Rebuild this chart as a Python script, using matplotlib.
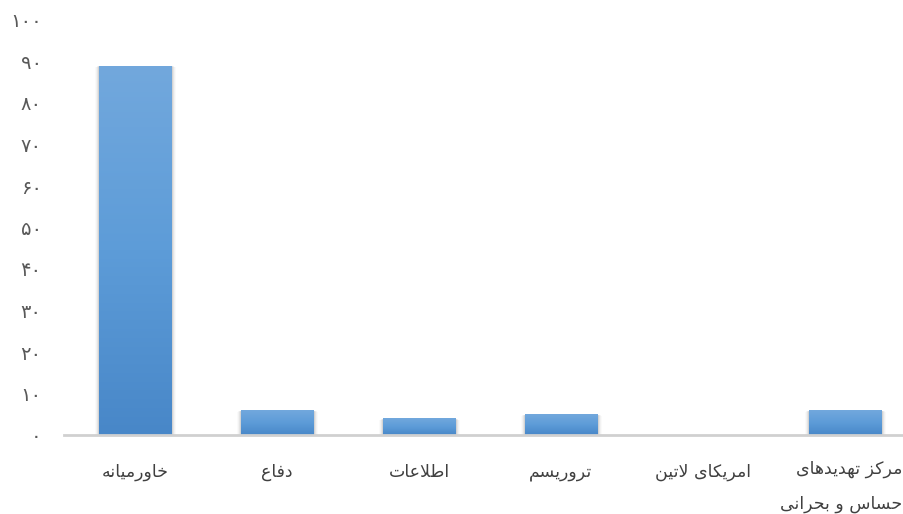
import numpy as np
import matplotlib.pyplot as plt
from matplotlib.colors import LinearSegmentedColormap

# داده‌ها (از راست به چپ در تصویر: چپ‌ترین ستون اول)
categories = ['خاورمیانه', 'دفاع', 'اطلاعات', 'تروریسم', 'امریکای لاتین',
              'مرکز تهدیدهای\nحساس و بحرانی']
values = [89, 6, 4, 5, 0, 6]
yticks = [0, 10, 20, 30, 40, 50, 60, 70, 80, 90, 100]

# شکل‌دهی ساده حروف فارسی (matplotlib متن راست‌به‌چپ را شکل نمی‌دهد)
FORMS = {
    'ا': ('\uFE8D', '\uFE8E', None, None),
    'ب': ('\uFE8F', '\uFE90', '\uFE91', '\uFE92'),
    'ت': ('\uFE95', '\uFE96', '\uFE97', '\uFE98'),
    'ح': ('\uFEA1', '\uFEA2', '\uFEA3', '\uFEA4'),
    'خ': ('\uFEA5', '\uFEA6', '\uFEA7', '\uFEA8'),
    'د': ('\uFEA9', '\uFEAA', None, None),
    'ر': ('\uFEAD', '\uFEAE', None, None),
    'ز': ('\uFEAF', '\uFEB0', None, None),
    'س': ('\uFEB1', '\uFEB2', '\uFEB3', '\uFEB4'),
    'ط': ('\uFEC1', '\uFEC2', '\uFEC3', '\uFEC4'),
    'ع': ('\uFEC9', '\uFECA', '\uFECB', '\uFECC'),
    'ف': ('\uFED1', '\uFED2', '\uFED3', '\uFED4'),
    'ک': ('\uFED9', '\uFEDA', '\uFEDB', '\uFEDC'),
    'ل': ('\uFEDD', '\uFEDE', '\uFEDF', '\uFEE0'),
    'م': ('\uFEE1', '\uFEE2', '\uFEE3', '\uFEE4'),
    'ن': ('\uFEE5', '\uFEE6', '\uFEE7', '\uFEE8'),
    'ه': ('\uFEE9', '\uFEEA', '\uFEEB', '\uFEEC'),
    'و': ('\uFEED', '\uFEEE', None, None),
    'ی': ('\uFEEF', '\uFEF0', '\uFEF3', '\uFEF4'),
}


def dual(c):
    return c in FORMS and FORMS[c][2] is not None


def shape_line(s):
    out = []
    i = 0
    while i < len(s):
        c = s[i]
        if c not in FORMS:
            out.append(c)
            i += 1
            continue
        prev = s[i - 1] if i > 0 else ''
        join_prev = dual(prev)
        # لام الف
        if c == 'ل' and i + 1 < len(s) and s[i + 1] == 'ا':
            out.append('\uFEFC' if join_prev else '\uFEFB')
            i += 2
            continue
        nxt = s[i + 1] if i + 1 < len(s) else ''
        join_next = dual(c) and nxt in FORMS
        f = FORMS[c]
        if join_prev and join_next:
            out.append(f[3])
        elif join_prev:
            out.append(f[1])
        elif join_next:
            out.append(f[2])
        else:
            out.append(f[0])
        i += 1
    return ''.join(out)[::-1]


def fa(s):
    return '\n'.join(shape_line(line) for line in s.split('\n'))


def fa_num(n):
    return ''.join(chr(0x06F0 + int(d)) for d in str(n))


plt.rcParams['font.family'] = ['DejaVu Sans']

fig = plt.figure(figsize=(9.04, 5.14), dpi=100)
ax = fig.add_axes([64 / 904, 79 / 514, 852 / 904, 415 / 514])

x = np.arange(len(categories))
bars = ax.bar(x, values, width=0.51, color='#5b9bd5', zorder=3)

# سایه نرم و گرادیان ستون‌ها
cmap = LinearSegmentedColormap.from_list('g', ['#4887c8', '#5d9cd8', '#72a8dd'])
grad = np.linspace(0, 1, 256).reshape(-1, 1)
for b in bars:
    if b.get_height() <= 0:
        continue
    x0, y0 = b.get_x(), b.get_y()
    w, h = b.get_width(), b.get_height()
    for k, a in enumerate([0.07, 0.05, 0.03, 0.02]):
        ax.bar(x0 + w / 2 + 0.004, h + 0.2 * (k + 1), width=w + 0.016 * (k + 1),
               bottom=-0.3 * (k + 1), color='black', alpha=a, zorder=2, linewidth=0)
    im = ax.imshow(grad, extent=[x0, x0 + w, y0, y0 + h], origin='lower',
                   cmap=cmap, aspect='auto', zorder=4)
    im.set_clip_path(b)

ax.set_xlim(-0.5, len(categories) - 0.5)
ax.set_ylim(0, 100)

# برچسب‌های محور افقی؛ برچسب آخر جدا و راست‌چین تا لبه تصویر
ax.set_xticks(x)
ax.set_xticklabels([fa(c) for c in categories[:-1]] + [''], fontsize=12.5,
                   color='#404040', va='top')
ax.annotate(fa(categories[-1]), xy=(x[-1], 0), xycoords=('data', 'axes fraction'),
            xytext=(41, -18), textcoords='offset points', ha='right', va='top',
            multialignment='right', fontsize=12.5, color='#404040',
            linespacing=2.2, annotation_clip=False)

ax.set_yticks(yticks)
ax.set_yticklabels([fa_num(v) for v in yticks], fontsize=14, color='#595959')
ax.tick_params(axis='x', length=0, pad=20)
ax.tick_params(axis='y', length=0, pad=16)

for s in ['top', 'right', 'left']:
    ax.spines[s].set_visible(False)
ax.spines['bottom'].set_color('#d0d0d0')
ax.spines['bottom'].set_linewidth(2)
ax.spines['bottom'].set_zorder(5)

fig.savefig('out.png', dpi=100)
